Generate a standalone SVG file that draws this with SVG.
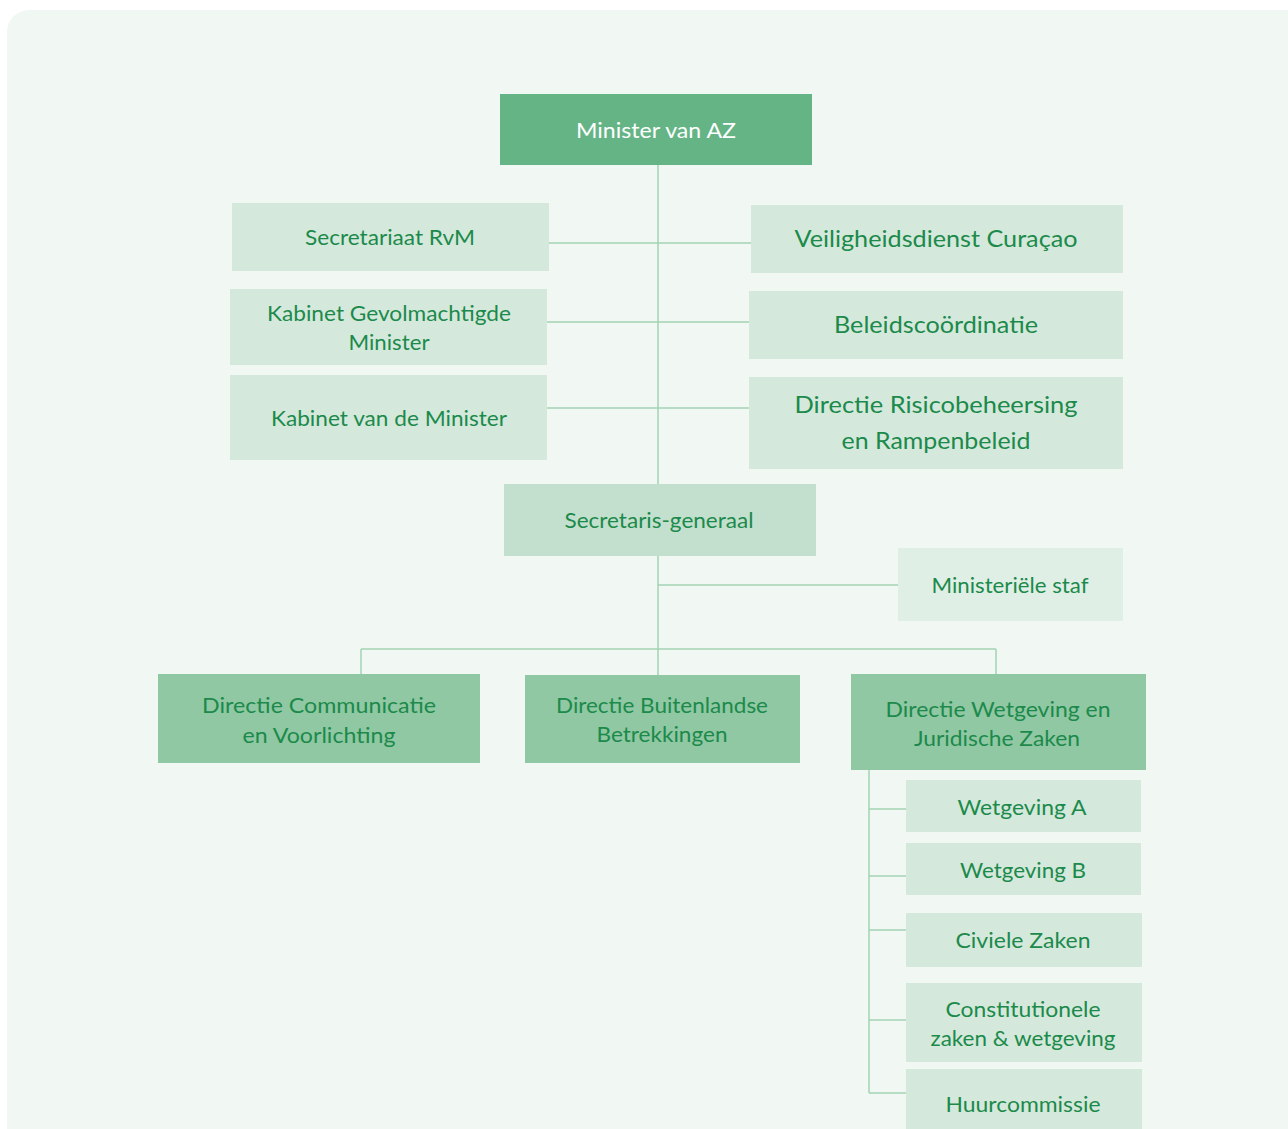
<svg xmlns="http://www.w3.org/2000/svg" width="1288" height="1129" viewBox="0 0 1288 1129">
<style>
text{font-family:"Lato","Noto Sans",sans-serif;fill:#1c8a4b;text-anchor:middle;}
.w{fill:#ffffff;}
.l{fill:#d4e9dc;}
.d{fill:#8fc8a3;}
.c line{stroke:#a3d3b5;stroke-width:1.5;}
</style>
<rect x="7" y="10" width="1310" height="1150" rx="22" fill="#f1f7f3"/>
<g class="c" id="connectors">
<line x1="658" y1="165" x2="658" y2="484"/>
<line x1="549" y1="243" x2="751" y2="243"/>
<line x1="547" y1="322" x2="749" y2="322"/>
<line x1="547" y1="408" x2="749" y2="408"/>
<line x1="658" y1="556" x2="658" y2="675"/>
<line x1="658" y1="585" x2="898" y2="585"/>
<line x1="361" y1="649" x2="996" y2="649"/>
<line x1="361" y1="649" x2="361" y2="674"/>
<line x1="996" y1="649" x2="996" y2="674"/>
<line x1="869" y1="770" x2="869" y2="1093"/>
<line x1="869" y1="809" x2="906" y2="809"/>
<line x1="869" y1="876" x2="906" y2="876"/>
<line x1="869" y1="930" x2="906" y2="930"/>
<line x1="869" y1="1020" x2="906" y2="1020"/>
<line x1="869" y1="1093" x2="906" y2="1093"/>
</g>
<g id="minister"><rect x="500" y="94" width="312" height="71" fill="#65b486"/><text class="w" x="656" y="138" font-size="22" textLength="160" lengthAdjust="spacingAndGlyphs">Minister van AZ</text></g>
<g id="secretariaat"><rect class="l" x="232" y="203" width="317" height="68"/><text x="390" y="245" font-size="22" textLength="170" lengthAdjust="spacingAndGlyphs">Secretariaat RvM</text></g>
<g id="kabinet-gevolmachtigde"><rect class="l" x="230" y="289" width="317" height="76"/><text x="389" y="321" font-size="22" textLength="244" lengthAdjust="spacingAndGlyphs">Kabinet Gevolmachtigde</text><text x="389" y="350" font-size="22" textLength="81" lengthAdjust="spacingAndGlyphs">Minister</text></g>
<g id="kabinet-minister"><rect class="l" x="230" y="375" width="317" height="85"/><text x="389" y="426" font-size="22" textLength="236" lengthAdjust="spacingAndGlyphs">Kabinet van de Minister</text></g>
<g id="veiligheidsdienst"><rect class="l" x="751" y="205" width="372" height="68"/><text x="936" y="247" font-size="24" textLength="283" lengthAdjust="spacingAndGlyphs">Veiligheidsdienst Curaçao</text></g>
<g id="beleidscoordinatie"><rect class="l" x="749" y="291" width="374" height="68"/><text x="936" y="333" font-size="24" textLength="204" lengthAdjust="spacingAndGlyphs">Beleidscoördinatie</text></g>
<g id="risicobeheersing"><rect class="l" x="749" y="377" width="374" height="92"/><text x="936" y="413" font-size="24" textLength="283" lengthAdjust="spacingAndGlyphs">Directie Risicobeheersing</text><text x="936" y="449" font-size="24" textLength="189" lengthAdjust="spacingAndGlyphs">en Rampenbeleid</text></g>
<g id="secretaris-generaal"><rect x="504" y="484" width="312" height="72" fill="#c3e0ce"/><text x="659" y="528" font-size="22" textLength="189" lengthAdjust="spacingAndGlyphs">Secretaris-generaal</text></g>
<g id="ministeriele-staf"><rect x="898" y="548" width="225" height="73" fill="#e0efe5"/><text x="1010" y="593" font-size="22" textLength="157" lengthAdjust="spacingAndGlyphs">Ministeriële staf</text></g>
<g id="communicatie"><rect class="d" x="158" y="674" width="322" height="89"/><text x="319" y="713" font-size="22" textLength="234" lengthAdjust="spacingAndGlyphs">Directie Communicatie</text><text x="319" y="743" font-size="22" textLength="153" lengthAdjust="spacingAndGlyphs">en Voorlichting</text></g>
<g id="buitenlandse"><rect class="d" x="525" y="675" width="275" height="88"/><text x="662" y="713" font-size="22" textLength="212" lengthAdjust="spacingAndGlyphs">Directie Buitenlandse</text><text x="662" y="742" font-size="22" textLength="131" lengthAdjust="spacingAndGlyphs">Betrekkingen</text></g>
<g id="wetgeving-juridisch"><rect class="d" x="851" y="674" width="295" height="96"/><text x="998" y="717" font-size="22" textLength="225" lengthAdjust="spacingAndGlyphs">Directie Wetgeving en</text><text x="997" y="746" font-size="22" textLength="166" lengthAdjust="spacingAndGlyphs">Juridische Zaken</text></g>
<g id="wetgeving-a"><rect class="l" x="906" y="780" width="235" height="52"/><text x="1022" y="815" font-size="22" textLength="129" lengthAdjust="spacingAndGlyphs">Wetgeving A</text></g>
<g id="wetgeving-b"><rect class="l" x="906" y="843" width="235" height="52"/><text x="1023" y="878" font-size="22" textLength="126" lengthAdjust="spacingAndGlyphs">Wetgeving B</text></g>
<g id="civiele-zaken"><rect class="l" x="906" y="913" width="236" height="54"/><text x="1023" y="948" font-size="22" textLength="135" lengthAdjust="spacingAndGlyphs">Civiele Zaken</text></g>
<g id="constitutionele"><rect class="l" x="906" y="983" width="236" height="79"/><text x="1023" y="1017" font-size="22" textLength="155" lengthAdjust="spacingAndGlyphs">Constitutionele</text><text x="1023" y="1046" font-size="22" textLength="185" lengthAdjust="spacingAndGlyphs">zaken &amp; wetgeving</text></g>
<g id="huurcommissie"><rect class="l" x="906" y="1069" width="236" height="70"/><text x="1023" y="1112" font-size="22" textLength="155" lengthAdjust="spacingAndGlyphs">Huurcommissie</text></g>
</svg>
